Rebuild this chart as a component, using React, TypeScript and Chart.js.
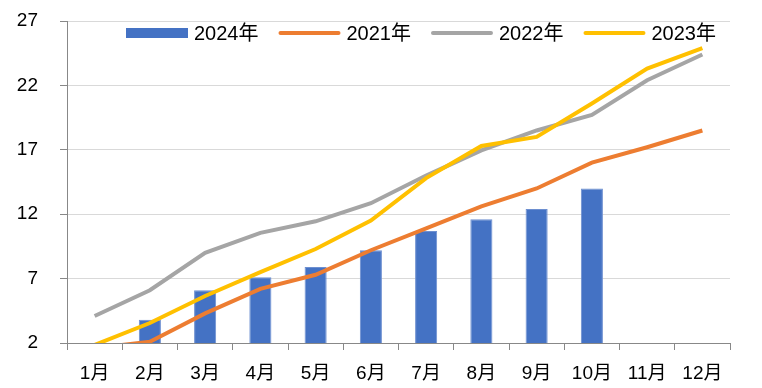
import React, { useEffect, useRef } from "react";
import { Chart, registerables } from "chart.js";

Chart.register(...registerables);

const months = ["1月", "2月", "3月", "4月", "5月", "6月", "7月", "8月", "9月", "10月", "11月", "12月"];
const seriesLabels = ["2024年", "2021年", "2022年", "2023年"];
const v2024 = [null, 3.8, 6.1, 7.1, 7.9, 9.2, 10.7, 11.6, 12.4, 14.0, null, null];
const v2021 = [1.6, 2.1, 4.3, 6.2, 7.3, 9.2, 10.9, 12.6, 14.0, 16.0, 17.2, 18.5];
const v2022 = [4.1, 6.1, 9.0, 10.55, 11.45, 12.85, 15.0, 16.95, 18.5, 19.7, 22.4, 24.4];
const v2023 = [1.85, 3.55, 5.65, 7.5, 9.3, 11.5, 14.8, 17.3, 18.0, 20.6, 23.3, 24.9];
const yTicks = [2, 7, 12, 17, 22, 27];

const FONT = '"Liberation Sans", "Noto Sans CJK SC", sans-serif';

const legendPlugin = {
  id: "insideLegend",
  afterDraw(chart: any) {
    const ctx = chart.ctx;
    const area = chart.chartArea;
    ctx.save();
    ctx.font = `20px ${FONT}`;
    ctx.textBaseline = "middle";
    ctx.textAlign = "left";
    let x = area.left + 59;
    const yc = area.top + 12;
    chart.data.datasets.forEach((ds: any) => {
      if (ds.type === "bar") {
        ctx.fillStyle = ds.backgroundColor;
        ctx.fillRect(x, yc - 5, 62, 10);
      } else {
        ctx.strokeStyle = ds.borderColor;
        ctx.lineWidth = 4;
        ctx.lineCap = "round";
        ctx.beginPath();
        ctx.moveTo(x + 2, yc);
        ctx.lineTo(x + 60, yc);
        ctx.stroke();
      }
      x += 68;
      ctx.fillStyle = "#000";
      ctx.fillText(ds.label, x, yc + 1);
      x += ctx.measureText(ds.label).width + 20;
    });
    ctx.restore();
  },
};

export default function App() {
  const ref = useRef<HTMLCanvasElement>(null);
  useEffect(() => {
    if (!ref.current) return;
    Chart.defaults.font.family = FONT;
    const chart = new Chart(ref.current, {
      type: "bar",
      data: {
        labels: months,
        datasets: [
          {
            type: "bar",
            label: seriesLabels[0],
            data: v2024 as any,
            backgroundColor: "#4472C4",
            borderColor: "#6d8fd0",
            borderWidth: 1,
            barPercentage: 0.4,
            categoryPercentage: 1,
            order: 4,
          },
          {
            type: "line",
            label: seriesLabels[1],
            data: v2021,
            borderColor: "#ED7D31",
            backgroundColor: "#ED7D31",
            borderWidth: 4,
            pointRadius: 0,
            tension: 0,
            order: 3,
          },
          {
            type: "line",
            label: seriesLabels[2],
            data: v2022,
            borderColor: "#A5A5A5",
            backgroundColor: "#A5A5A5",
            borderWidth: 4,
            pointRadius: 0,
            tension: 0,
            order: 2,
          },
          {
            type: "line",
            label: seriesLabels[3],
            data: v2023,
            borderColor: "#FFC000",
            backgroundColor: "#FFC000",
            borderWidth: 4,
            pointRadius: 0,
            tension: 0,
            order: 1,
          },
        ] as any,
      },
      options: {
        responsive: false,
        animation: false,
        layout: { padding: { top: 21, right: 32, left: 0, bottom: 0 } },
        plugins: { legend: { display: false }, tooltip: { enabled: false } },
        scales: {
          x: {
            grid: {
              drawOnChartArea: false,
              offset: true,
              tickLength: 7,
              color: "#888",
            },
            border: { color: "#888", width: 1 },
            ticks: { color: "#000", font: { size: 19 }, padding: 12, maxRotation: 0 },
            afterFit: (s: any) => {
              s.height = 45;
              s.paddingLeft = 0;
              s.paddingRight = 0;
            },
          },
          y: {
            min: 2,
            max: 27,
            afterBuildTicks: (s: any) => {
              s.ticks = yTicks.map((v) => ({ value: v }));
            },
            grid: { color: "#d9d9d9", tickColor: "#888", tickLength: 7 },
            border: { color: "#888", width: 1 },
            ticks: { color: "#000", font: { size: 19 }, padding: 22 },
            afterFit: (s: any) => {
              s.width = 67;
              s.paddingTop = 0;
              s.paddingBottom = 0;
            },
          },
        },
      },
      plugins: [legendPlugin],
    });
    return () => chart.destroy();
  }, []);
  return (
    <div style={{ position: "absolute", left: 0, top: 0, width: 762, height: 388, background: "#fff" }}>
      <canvas ref={ref} width={762} height={388} />
    </div>
  );
}
